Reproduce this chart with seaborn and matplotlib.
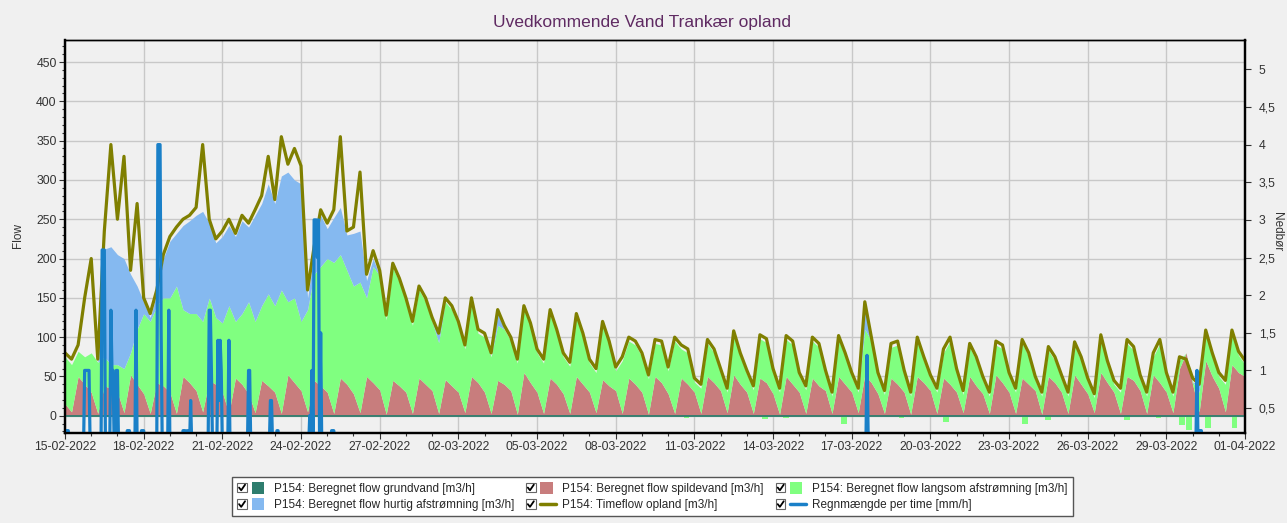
#!/usr/bin/env python3
"""Uvedkommende vand - Trankær opland, P154 flow vs. regn."""

import matplotlib
matplotlib.use("Agg")
import matplotlib.dates as mdates
import matplotlib.pyplot as plt
import numpy as np
import pandas as pd
import seaborn as sns
from matplotlib.legend_handler import HandlerBase
from matplotlib.lines import Line2D
from matplotlib.patches import Patch, Rectangle
from matplotlib.ticker import FuncFormatter, MultipleLocator

START = "2022-02-15"

# 6-timers værdier (00, 06, 12, 18) pr. dag, sidste værdi = 01-04 00:00
timeflow = [
    80, 72, 90, 150,  200, 72, 235, 345,  250, 330, 185, 270,  150, 130, 160, 205,
    228, 240, 250, 255,  265, 345, 250, 225,  235, 250, 232, 255,  245, 262, 280, 330,
    275, 355, 320, 340,  318, 160, 215, 262,  245, 262, 355, 235,  240, 310, 180, 210,
    185, 128, 194, 175,  150, 120, 165, 150,  125, 105, 150, 140,  120, 90, 150, 110,
    105, 80, 135, 115,  100, 72, 140, 118,  85, 72, 135, 110,  80, 68, 130, 105,
    72, 60, 120, 95,  62, 75, 100, 95,  80, 52, 97, 95,  62, 100, 90, 85,
    48, 40, 97, 85,  60, 35, 108, 80,  58, 38, 103, 98,  60, 35, 102, 95,
    55, 38, 100, 92,  58, 30, 102, 80,  55, 35, 145, 100,  55, 32, 92, 95,
    58, 30, 100, 75,  52, 35, 85, 100,  60, 32, 92, 75,  50, 30, 95, 90,
    55, 35, 97, 80,  50, 30, 88, 75,  52, 30, 94, 75,  48, 28, 103, 70,
    45, 35, 97, 88,  52, 30, 80, 97,  55, 30, 75, 72,  48, 40, 109, 80,
    55, 45, 109, 82,  70,
]
spildevand = [
    15, 5, 50, 40,  30, 3, 38, 35,  30, 4, 52, 40,  28, 3, 42, 38,
    30, 3, 50, 42,  32, 5, 45, 40,  30, 3, 48, 40,  28, 4, 45, 38,
    30, 3, 52, 42,  32, 5, 45, 38,  30, 3, 48, 40,  28, 4, 50, 42,
    33, 2, 45, 38,  30, 3, 48, 40,  32, 3, 46, 38,  30, 4, 50, 42,
    30, 3, 45, 40,  32, 2, 55, 42,  30, 3, 48, 40,  28, 3, 50, 40,
    30, 4, 46, 38,  32, 3, 48, 40,  30, 2, 50, 42,  28, 3, 48, 40,
    30, 3, 50, 42,  32, 4, 52, 40,  30, 3, 48, 42,  28, 2, 50, 40,
    30, 3, 48, 38,  32, 3, 50, 40,  30, 4, 52, 42,  28, 3, 48, 40,
    30, 2, 50, 42,  32, 3, 48, 40,  30, 4, 50, 38,  28, 3, 52, 42,
    30, 3, 48, 40,  32, 2, 50, 42,  30, 3, 52, 40,  28, 4, 55, 42,
    30, 3, 50, 45,  32, 3, 52, 42,  30, 4, 60, 80,  40, 5, 70, 50,
    35, 5, 65, 55,  50,
]
langsom = [
    60, 60, 32, 35,  50, 65, 37, 30,  35, 56, 28, 70,  102, 117, 98, 112,
    120, 162, 85, 88,  98, 115, 105, 85,  88, 137, 72, 90,  117, 116, 95, 117,
    110, 157, 93, 108,  88, 130, 135, 152,  170, 192, 157, 145,  137, 166, 100, 148,
    145, 120, 143, 132,  115, 112, 112, 105,  88, 90, 99, 97,  85, 81, 95, 63,
    70, 72, 70, 70,  63, 65, 80, 71,  50, 64, 82, 65,  47, 60, 75, 60,
    37, 51, 69, 52,  25, 67, 47, 50,  45, 45, 42, 48,  29, 92, 37, 40,
    13, 32, 42, 38,  23, 26, 51, 35,  23, 30, 50, 51,  27, 28, 47, 50,
    20, 30, 47, 49,  21, 22, 47, 35,  20, 26, 58, 53,  22, 24, 39, 50,
    23, 23, 45, 28,  15, 27, 32, 55,  25, 23, 37, 32,  17, 22, 38, 43,
    20, 27, 44, 35,  13, 23, 33, 28,  17, 22, 37, 30,  15, 19, 43, 23,
    10, 27, 42, 38,  15, 22, 23, 50,  20, 21, 10, 0,  3, 25, 34, 25,
    15, 35, 39, 22,  15,
]
hurtig = [
    0, 0, 0, 0,  0, 0, 137, 150,  140, 140, 100, 55,  15, 5, 15, 50,
    72, 67, 107, 118,  125, 140, 95, 95,  110, 102, 108, 118,  95, 135, 130, 140,
    130, 145, 165, 150,  175, 15, 25, 65,  38, 57, 60, 45,  67, 65, 22, 10,
    0, 0, 0, 0,  0, 0, 0, 0,  0, 10, 0, 0,  0, 0, 0, 0,
    0, 0, 15, 0,  0, 0, 0, 0,  0, 0, 0, 0,  0, 0, 0, 0,
    0, 0, 0, 0,  0, 0, 0, 0,  0, 0, 0, 0,  0, 0, 0, 0,
    0, 0, 0, 0,  0, 0, 0, 0,  0, 0, 0, 0,  0, 0, 0, 0,
    0, 0, 0, 0,  0, 0, 0, 0,  0, 0, 30, 0,  0, 0, 0, 0,
    0, 0, 0, 0,  0, 0, 0, 0,  0, 0, 0, 0,  0, 0, 0, 0,
    0, 0, 0, 0,  0, 0, 0, 0,  0, 0, 0, 0,  0, 0, 0, 0,
    0, 0, 0, 0,  0, 0, 0, 0,  0, 0, 0, 0,  0, 10, 0, 0,
    0, 0, 0, 0,  0,
]

# negative perioder for langsom afstrømning (dag efter start, m3/h)
langsom_neg_days = [23.7, 26.7, 27.5, 29.7, 31.9, 33.6, 36.6, 37.5, 40.5, 41.7, 42.6, 42.85, 43.6, 44.6]
langsom_neg_vals = [-3, -4, -3, -10, -3, -8, -11, -5, -5, -3, -12, -18, -15, -15]

# regn pr. time: time-index efter start og mm/h
rain_hours = [1, 2, 3, 18, 19, 20, 21, 22, 34, 35, 36, 42, 43, 44, 47, 48,
              57, 58, 59, 65, 70, 71, 72, 85, 86, 87, 88, 95, 108, 109, 110, 112,
              115, 132, 133, 134, 140, 141, 142, 143, 150, 168, 169, 188, 189, 194, 195,
              224, 226, 228, 229, 230, 231, 232, 234, 244, 245, 246,
              734, 735, 1036, 1038, 1039, 1040]
rain_mm = [0.2, 0.2, 0.2, 1.0, 1.0, 1.0, 1.0, 1.0, 2.6, 2.6, 2.6, 1.8, 1.0, 1.0, 1.0, 1.0,
           0.2, 0.2, 0.2, 1.8, 0.2, 0.2, 0.2, 4.0, 4.0, 4.0, 1.5, 1.8, 0.2, 0.2, 0.2, 0.2,
           0.6, 1.8, 1.8, 1.0, 1.4, 0.6, 1.4, 1.0, 1.4, 1.0, 1.0, 0.6, 0.6, 0.2, 0.2,
           0.4, 1.0, 3.0, 3.0, 3.0, 2.5, 3.0, 1.5, 0.2, 0.2, 0.2,
           1.2, 0.2, 1.0, 0.2, 0.2, 0.2]

XTICKS = pd.date_range(START, "2022-04-01", freq="3D")

C_GRUND = "#2e7d6e"
C_SPILD = "#c87d7d"
C_LANGSOM = "#80ff80"
C_HURTIG = "#85b9f0"
C_TIME = "#7f7f00"
C_REGN = "#1a80c8"
BG = "#f0f0f0"


class CheckedHandler(HandlerBase):
    """Legend-symbol med afkrydsningsfelt foran."""

    def create_artists(self, legend, orig_handle, xdescent, ydescent, width, height, fontsize, trans):
        x0, y0 = -xdescent, -ydescent
        b = height * 0.8
        by = y0 + (height - b) / 2
        box = Rectangle((x0, by), b, b, facecolor="white", edgecolor="#666666", lw=0.8, transform=trans)
        tick = Line2D([x0 + 0.2 * b, x0 + 0.42 * b, x0 + 0.82 * b],
                      [by + 0.5 * b, by + 0.22 * b, by + 0.8 * b],
                      color="black", lw=1.3, transform=trans)
        sx = x0 + b + height * 0.4
        if isinstance(orig_handle, Patch):
            sym = Rectangle((sx, y0), height, height, facecolor=orig_handle.get_facecolor(),
                            edgecolor="none", transform=trans)
        else:
            sym = Line2D([sx, sx + height * 1.3], [y0 + height / 2] * 2,
                         color=orig_handle.get_color(), lw=2.5, transform=trans)
        return [box, tick, sym]


def main():
    sns.set_theme(style="whitegrid")
    plt.rcParams["font.family"] = ["Liberation Sans", "DejaVu Sans"]

    times = pd.date_range(START, periods=len(timeflow), freq="6h")
    rain = np.zeros(len(timeflow) * 6 - 5)
    rain[rain_hours] = rain_mm
    rain_times = pd.date_range(START, periods=len(rain), freq="h")
    neg_times = pd.Timestamp(START) + pd.to_timedelta(langsom_neg_days, unit="D")

    fig = plt.figure(figsize=(12.87, 5.23), dpi=100, facecolor=BG)
    ax = fig.add_axes([0.0505, 0.172, 0.9169, 0.7515])
    ax.set_facecolor(BG)
    ax.set_axisbelow(True)

    ax.stackplot(times, spildevand, langsom, hurtig,
                 colors=[C_SPILD, C_LANGSOM, C_HURTIG], lw=0, zorder=2)
    ax.bar(neg_times, langsom_neg_vals, width=0.22, color=C_LANGSOM, lw=0, zorder=2)
    ax.axhline(0, color=C_GRUND, lw=1.3, zorder=3)
    sns.lineplot(x=times, y=timeflow, ax=ax, color=C_TIME, lw=2.3, zorder=4)

    ax2 = ax.twinx()
    sns.lineplot(x=rain_times, y=rain, ax=ax2, color=C_REGN, lw=2.3)
    ax2.grid(False)

    ax.set_xlim(times[0], times[-1])
    ax.set_ylim(-22, 478)
    ax2.set_ylim(0.168, 5.39)

    ax.set_xticks(XTICKS)
    ax.xaxis.set_major_formatter(mdates.DateFormatter("%d-%m-%Y"))
    ax.xaxis.set_minor_locator(mdates.DayLocator())
    ax.set_yticks(range(0, 451, 50))
    ax.yaxis.set_minor_locator(MultipleLocator(10))
    ax2.set_yticks(np.arange(0.5, 5.01, 0.5))
    ax2.yaxis.set_major_formatter(FuncFormatter(lambda v, _: f"{v:g}".replace(".", ",")))

    ax.grid(True, which="major", color="#c8c8c8", lw=1)
    ax.set_xlabel("")
    ax.set_ylabel("")
    ax2.set_ylabel("")

    ax.tick_params(axis="both", which="both", direction="out", colors="#333333",
                   bottom=True, left=True, labelsize=8.8, length=4, width=0.8, pad=2)
    ax.tick_params(which="minor", length=2.5)
    ax2.tick_params(axis="y", direction="out", right=True, colors="#333333",
                    labelsize=8.8, length=4, width=0.8, pad=6)
    for a in (ax, ax2):
        for side, sp in a.spines.items():
            sp.set_color("black")
            sp.set_linewidth(1.0 if side == "top" else 1.6)

    fig.text(642 / 1287, 1 - 22 / 523, "Uvedkommende Vand Trankær opland",
             ha="center", va="center", fontsize=12.5, color="#5f2a62")
    fig.text(18 / 1287, 1 - 235 / 523, "Flow", rotation=90, ha="center", va="center",
             fontsize=8.5, color="#333333")
    fig.text(1277 / 1287, 1 - 232 / 523, "Nedbør", rotation=270, ha="center", va="center",
             fontsize=8.5, color="#333333")

    handles = [
        Patch(facecolor=C_GRUND), Patch(facecolor=C_HURTIG),
        Patch(facecolor=C_SPILD), Line2D([], [], color=C_TIME),
        Patch(facecolor=C_LANGSOM), Line2D([], [], color=C_REGN),
    ]
    labels = [
        "P154: Beregnet flow grundvand [m3/h]", "P154: Beregnet flow hurtig afstrømning [m3/h]",
        "P154: Beregnet flow spildevand [m3/h]", "P154: Timeflow opland [m3/h]",
        "P154: Beregnet flow langsom afstrømning [m3/h]", "Regnmængde per time [mm/h]",
    ]
    handler = CheckedHandler()
    leg = fig.legend(handles, labels, ncol=3, loc="center", bbox_to_anchor=(0.507, 0.051),
                     fontsize=8.5, frameon=True, fancybox=False, framealpha=1,
                     facecolor="white", edgecolor="#555555", handleheight=1.2,
                     handlelength=2.6, handletextpad=0.5, columnspacing=1.0,
                     borderpad=0.4, labelspacing=0.3,
                     handler_map={Patch: handler, Line2D: handler})
    leg.get_frame().set_linewidth(1.0)

    fig.savefig("out.png", dpi=100, facecolor=BG)


if __name__ == "__main__":
    main()
